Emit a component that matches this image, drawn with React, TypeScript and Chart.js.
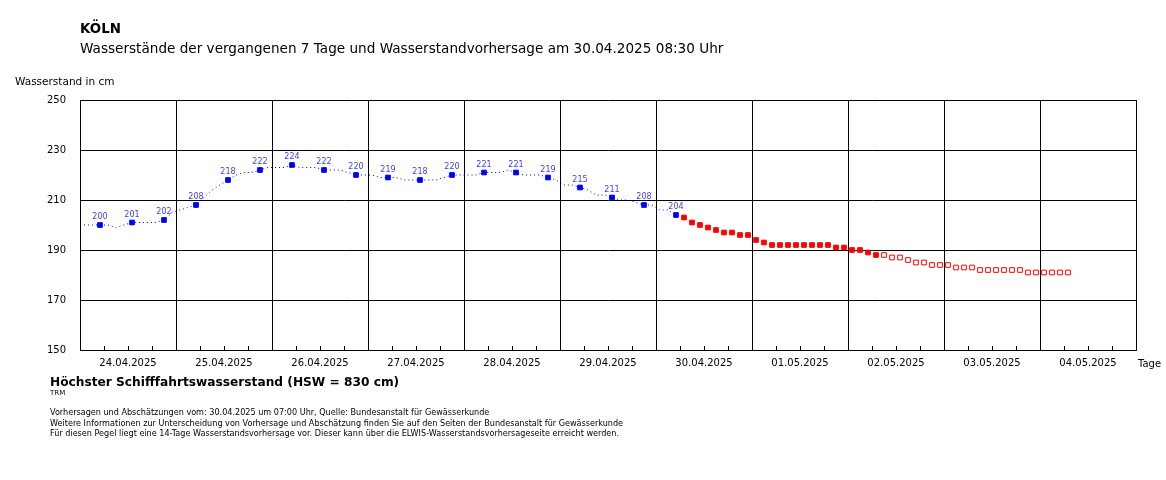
import React, { useEffect, useRef } from "react";
import { Chart, registerables } from "chart.js";

Chart.register(...registerables);

// ---------- data ----------
const dayLabels = [
  "24.04.2025", "25.04.2025", "26.04.2025", "27.04.2025", "28.04.2025", "29.04.2025",
  "30.04.2025", "01.05.2025", "02.05.2025", "03.05.2025", "04.05.2025",
];
const yTickValues = [150, 170, 190, 210, 230, 250];

// hours counted from 24.04.2025 00:00
const measuredHours = [5, 13, 21, 29, 37, 45, 53, 61, 69, 77, 85, 93, 101, 109, 117, 125, 133, 141, 149];
const measuredValues = [200, 201, 202, 208, 218, 222, 224, 222, 220, 219, 218, 220, 221, 221, 219, 215, 211, 208, 204];

const trendStartHour = 1;
const trendStepHours = 2;
const trendValues = [
  200, 200, 200, 200, 199, 200, 201, 201, 201, 201,
  202, 205, 206, 207, 208, 211, 214, 216, 218, 220,
  221, 221, 222, 223, 223, 223, 224, 223, 223, 223,
  222, 222, 222, 221, 220, 220, 220, 219, 219, 219,
  218, 218, 218, 218, 218, 219, 220, 220, 220, 220,
  221, 221, 221, 222, 221, 220, 220, 220, 219, 218,
  216, 216, 215, 214, 212, 212, 211, 210, 210, 209,
  208, 208, 206, 206, 204,
];

const forecastStartHour = 151;
const forecastStepHours = 2;
const forecastValues = [
  203, 201, 200, 199, 198, 197, 197, 196, 196, 194, 193, 192, 192,
  192, 192, 192, 192, 192, 192, 191, 191, 190, 190, 189, 188,
];

const estimateStartHour = 201;
const estimateStepHours = 2;
const estimateValues = [
  188, 187, 187, 186, 185, 185, 184, 184, 184, 183, 183, 183,
  182, 182, 182, 182, 182, 182, 181, 181, 181, 181, 181, 181,
];

const titleText = "KÖLN";
const subtitleText = "Wasserstände der vergangenen 7 Tage und Wasserstandvorhersage am 30.04.2025 08:30 Uhr";
const yAxisTitle = "Wasserstand in cm";
const xAxisTitle = "Tage";
const hswText = "Höchster Schifffahrtswasserstand (HSW = 830 cm)";
const trmText = "TRM";
const footerLines = [
  "Vorhersagen und Abschätzungen vom: 30.04.2025 um 07:00 Uhr, Quelle: Bundesanstalt für Gewässerkunde",
  "Weitere Informationen zur Unterscheidung von Vorhersage und Abschätzung finden Sie auf den Seiten der Bundesanstalt für Gewässerkunde",
  "Für diesen Pegel liegt eine 14-Tage Wasserstandsvorhersage vor. Dieser kann über die ELWIS-Wasserstandsvorhersageseite erreicht werden.",
];

const FONT = "'DejaVu Sans', Verdana, sans-serif";

const toPoints = (start: number, step: number, vals: number[]) =>
  vals.map((v, i) => ({ x: start + i * step, y: v }));

export default function App() {
  const ref = useRef<HTMLCanvasElement | null>(null);

  useEffect(() => {
    if (!ref.current) return;

    const overlay = {
      id: "overlay",
      afterDatasetsDraw(chart: any) {
        const ctx = chart.ctx;
        const xs = chart.scales.x;
        const area = chart.chartArea;
        ctx.save();
        // inward minor ticks on bottom axis
        ctx.strokeStyle = "#000";
        ctx.lineWidth = 1;
        for (let v = 6; v < 264; v += 6) {
          if (v % 24 === 0) continue;
          const px = Math.round(xs.getPixelForValue(v)) + 0.5;
          ctx.beginPath();
          ctx.moveTo(px, area.bottom);
          ctx.lineTo(px, area.bottom - 4);
          ctx.stroke();
        }
        // value labels above measured points
        const meta = chart.getDatasetMeta(0);
        ctx.fillStyle = "#3c3cff";
        ctx.font = `8px ${FONT}`;
        ctx.textAlign = "center";
        ctx.textBaseline = "alphabetic";
        meta.data.forEach((el: any, i: number) => {
          ctx.fillText(String(measuredValues[i]), el.x, el.y - 6);
        });
        ctx.restore();
      },
      afterDraw(chart: any) {
        const ctx = chart.ctx;
        const area = chart.chartArea;
        ctx.save();
        ctx.fillStyle = "#000";
        ctx.textAlign = "left";
        ctx.textBaseline = "alphabetic";
        ctx.font = `bold 13.4px ${FONT}`;
        ctx.fillText(titleText, 80, 33);
        ctx.font = `13.6px ${FONT}`;
        ctx.fillText(subtitleText, 80, 53);
        ctx.font = `10.5px ${FONT}`;
        ctx.fillText(yAxisTitle, 15, 85);
        ctx.font = `10px ${FONT}`;
        ctx.fillText(xAxisTitle, area.right + 2, 367);
        ctx.font = `bold 12.2px ${FONT}`;
        ctx.fillText(hswText, 50, 386);
        ctx.font = `7px ${FONT}`;
        ctx.fillText(trmText, 50, 395);
        ctx.font = `8.1px ${FONT}`;
        footerLines.forEach((t, i) => ctx.fillText(t, 50, 415 + i * 10.5));
        ctx.restore();
      },
    };

    const chart = new Chart(ref.current, {
      type: "scatter",
      data: {
        datasets: [
          {
            label: "Messwerte",
            data: measuredHours.map((h, i) => ({ x: h, y: measuredValues[i] })),
            showLine: false,
            pointStyle: "rect",
            pointRadius: 3.3,
            borderWidth: 1,
            borderColor: "#0000ff",
            backgroundColor: "#0000ff",
            order: 1,
          },
          {
            label: "Verlauf",
            data: toPoints(trendStartHour, trendStepHours, trendValues),
            showLine: true,
            pointRadius: 0,
            borderColor: "#0000ff",
            borderWidth: 1,
            borderDash: [1, 3],
            fill: false,
            order: 4,
          },
          {
            label: "Vorhersage",
            data: toPoints(forecastStartHour, forecastStepHours, forecastValues),
            showLine: false,
            pointStyle: "rect",
            pointRadius: 3.3,
            borderWidth: 1,
            borderColor: "#ff0000",
            backgroundColor: "#ff0000",
            order: 2,
          },
          {
            label: "Abschätzung",
            data: toPoints(estimateStartHour, estimateStepHours, estimateValues),
            showLine: false,
            pointStyle: "rect",
            pointRadius: 3.3,
            borderWidth: 1,
            borderColor: "#ff0000",
            backgroundColor: "#ffffff",
            order: 3,
          },
        ],
      },
      options: {
        animation: false,
        responsive: false,
        layout: { padding: { top: 100, right: 30, left: 0, bottom: 0 } },
        plugins: {
          legend: { display: false },
          tooltip: { enabled: false },
          title: { display: false },
        },
        scales: {
          x: {
            type: "linear",
            min: 0,
            max: 264,
            afterFit: (s: any) => { s.height = 130; },
            afterBuildTicks: (s: any) => {
              const t = [];
              for (let v = 0; v <= 264; v += 6) t.push({ value: v });
              s.ticks = t;
            },
            grid: {
              color: (c: any) => (c.tick && c.tick.value % 24 === 0 ? "#000" : "rgba(0,0,0,0)"),
              lineWidth: 1,
              drawTicks: false,
            },
            border: { color: "#000", width: 1 },
            ticks: {
              autoSkip: false,
              maxRotation: 0,
              padding: 7,
              color: "#000",
              font: { family: FONT, size: 10 },
              callback: (v: any) => {
                const n = Number(v);
                return n % 24 === 12 ? dayLabels[(n - 12) / 24] : "";
              },
            },
          },
          y: {
            min: 150,
            max: 250,
            afterFit: (s: any) => { s.width = 80; },
            afterBuildTicks: (s: any) => {
              s.ticks = yTickValues.map((v) => ({ value: v }));
            },
            grid: { color: "#000", lineWidth: 1, drawTicks: false },
            border: { color: "#000", width: 1 },
            ticks: {
              padding: 14,
              color: "#000",
              font: { family: FONT, size: 10 },
            },
          },
        },
      },
      plugins: [overlay],
    });

    return () => chart.destroy();
  }, []);

  return (
    <div style={{ position: "absolute", left: 0, top: 0, width: 1166, height: 480, background: "#fff" }}>
      <canvas ref={ref} width={1166} height={480} style={{ display: "block" }} />
    </div>
  );
}
